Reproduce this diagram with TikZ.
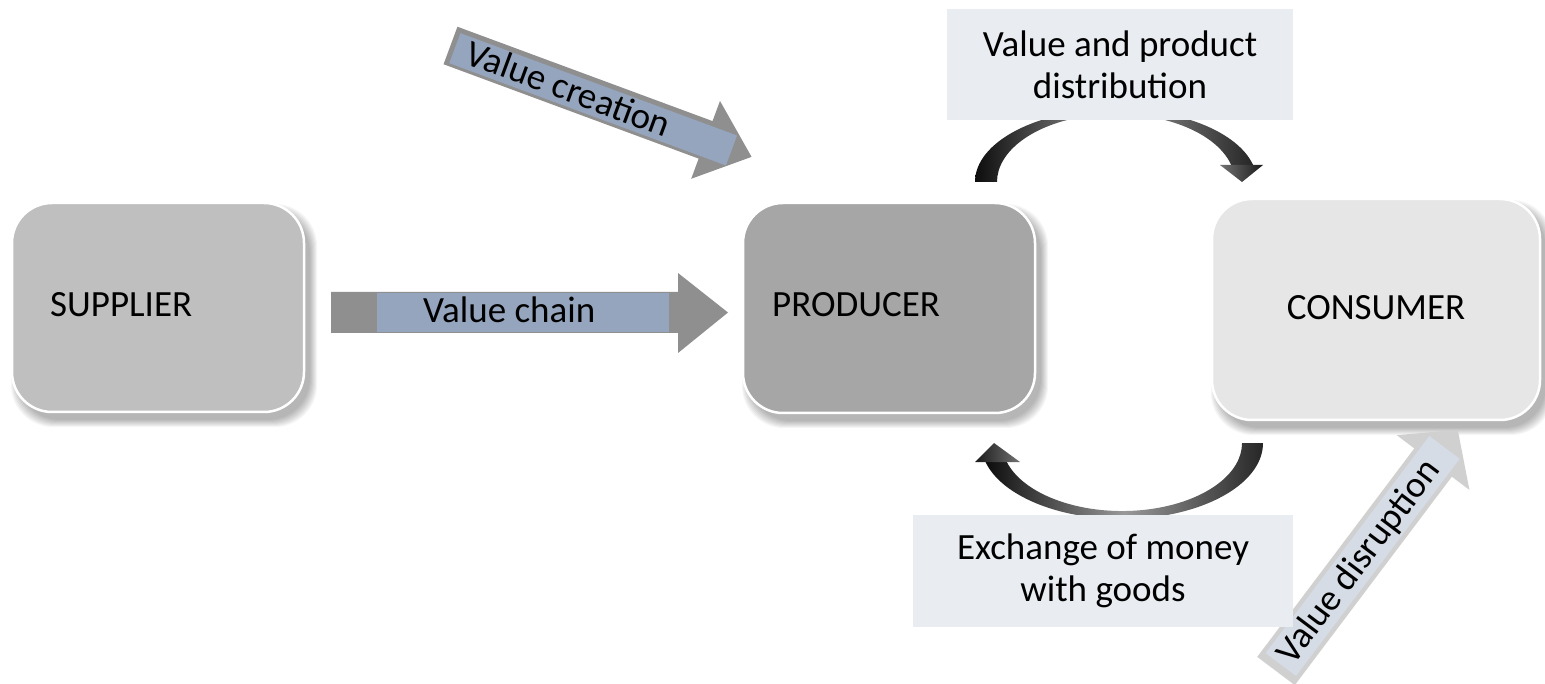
\documentclass[tikz,border=0pt]{standalone}
\usepackage{fontspec}
\setmainfont{Carlito}
\definecolor{boxS}{HTML}{BFBFBF}
\definecolor{boxP}{HTML}{A6A6A6}
\definecolor{boxC}{HTML}{E6E6E6}
\definecolor{lbl}{HTML}{E9EDF2}
\definecolor{arrG}{HTML}{8F8F8F}
\definecolor{arrB}{HTML}{95A5BD}
\definecolor{arrL}{HTML}{D0D0D0}
\definecolor{arrLB}{HTML}{D5DCE6}
\newcommand\boxshadow[4]{%
  \foreach \k in {0,...,7}{%
    \fill[black,opacity=0.04,rounded corners=42]
      (#1+6-\k*1.0,#2-8+\k*1.0) rectangle (#3+6+\k*1.0,#4-8-\k*1.0);}}
\tikzset{
  entity/.style={draw=white, line width=2.5pt, rounded corners=40, inner sep=0pt},
  lblbox/.style={fill=lbl, inner sep=0pt, align=center},
  txt/.style={text=black, inner sep=0pt},
  curvedark/.style={left color=black!95, right color=black!85, middle color=black!40},
}
\begin{document}
\begin{tikzpicture}[x=1pt,y=1pt,font=\fontsize{37}{42}\selectfont]
\fill[white] (0,0) rectangle (1545,-684);
\useasboundingbox (0,0) rectangle (1545,-684);

% shadows
\boxshadow{12}{-203}{304}{-412}
\boxshadow{743}{-203}{1035}{-413}
\boxshadow{1212}{-199}{1540}{-420}

% entity boxes
\node[entity, fill=boxS, minimum width=292, minimum height=209] (sup) at (158,-307.5) {};
\node[txt, anchor=base west] (supT) at (50,-317) {SUPPLIER};
\node[entity, fill=boxP, minimum width=292, minimum height=210] (prod) at (889,-308) {};
\node[txt, anchor=base west] (prodT) at (772,-317) {PRODUCER};
\node[entity, fill=boxC, minimum width=328, minimum height=221] (cons) at (1376,-309.5) {};
\node[txt, anchor=base] (consT) at (1376,-320) {CONSUMER};

% value chain arrow
\fill[arrG] (331,-292) -- (678,-292) -- (678,-273) -- (728,-312.5) -- (678,-353) -- (678,-333) -- (331,-333) -- cycle;
\fill[arrB] (377,-293) rectangle (669,-332);
\node[txt, anchor=base west] (vchain) at (423,-323) {Value chain};

% value creation arrow
\begin{scope}[shift={(450.5,-45.5)}, rotate=-20.3]
  \fill[arrG] (0,20) -- (272,20) -- (272,41.5) -- (321,0) -- (272,-41.5) -- (272,-20) -- (0,-20) -- cycle;
  \fill[arrB] (5,-17) rectangle (300,15);
  \node[txt, anchor=base, rotate=-20.3] (vcreate) at (126,-12) {Value creation};
\end{scope}

% value disruption arrow
\begin{scope}[shift={(1276,-671)}, rotate=53]
  \fill[arrL] (0,23.5) -- (261,23.5) -- (261,45.5) -- (302,0) -- (261,-45.5) -- (261,-23.5) -- (0,-23.5) -- cycle;
  \fill[arrLB] (8,-19) rectangle (280,19);
  \node[txt, anchor=base, rotate=53] (vdisrupt) at (137,-11) {Value disruption};
\end{scope}

% top curved arrow (producer -> consumer)
\shade[curvedark] (975,-182) arc[start angle=180, end angle=13.5, x radius=141, y radius=73]
  -- (1231.2,-165) arc[start angle=14.48, end angle=180, x radius=119, y radius=68] -- cycle;
\shade[left color=black!55, right color=black!90] (1220,-165) -- (1263,-165) -- (1242,-182) -- cycle;

% bottom curved arrow (consumer -> producer)
\shade[curvedark] (1263,-443) arc[start angle=360, end angle=194.5, x radius=141, y radius=76]
  -- (1006.8,-462) arc[start angle=196.2, end angle=360, x radius=120, y radius=68] -- cycle;
\shade[left color=black!90, right color=black!55] (975,-462) -- (1020,-462) -- (994,-443) -- cycle;

% label boxes
\node[lblbox, minimum width=346, minimum height=111] (dist) at (1120,-64.5) {Value and product\\distribution};
\node[lblbox, minimum width=380, minimum height=112] (xchg) at (1103,-571) {Exchange of money\\with goods};
\end{tikzpicture}
\end{document}
